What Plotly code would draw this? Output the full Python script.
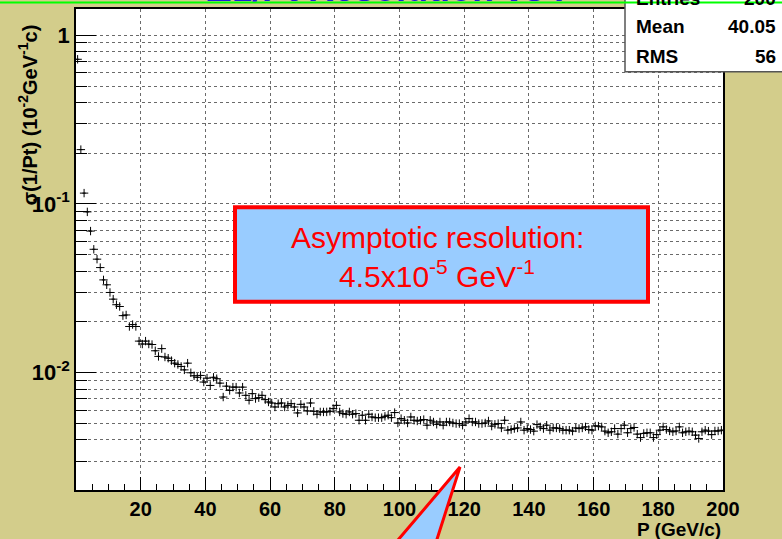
import math
import plotly.graph_objects as go

# ---------------- data ----------------
bin_low = list(range(200))                 # 200 bins of 1 GeV/c from 0 to 200
P_center = [b + 0.5 for b in bin_low]

sigma = [
    0.72, 0.21, 0.116, 0.0898, 0.0691, 0.0539, 0.0471, 0.042, 0.0355, 0.0332,
    0.0299, 0.0273, 0.0253, 0.0247, 0.0218, 0.0220, 0.0188, 0.0193, 0.0188, 0.0154,
    0.0148, 0.0154, 0.0148, 0.0147, 0.0135, 0.0125, 0.0139, 0.0124, 0.0122, 0.0118,
    0.0114, 0.0112, 0.0109, 0.0104, 0.0114, 0.0100, 0.0096, 0.0094,
    0.00964, 0.00881, 0.00929, 0.00841, 0.0094, 0.00922, 0.00868, 0.00718, 0.00833, 0.00786,
    0.00822, 0.00822, 0.00759, 0.00822, 0.00735, 0.00687, 0.00752, 0.00703, 0.00712, 0.00735,
    0.00693, 0.00671, 0.00662, 0.00627, 0.00656, 0.00662, 0.00627, 0.00641, 0.00656, 0.00627,
    0.00578, 0.0065, 0.00627, 0.00594, 0.00662, 0.00591, 0.00568, 0.00586, 0.00586, 0.00586,
    0.00591, 0.00613, 0.00641, 0.00586, 0.00573, 0.00568, 0.00586, 0.00568, 0.00573, 0.00523,
    0.0056, 0.00523, 0.00568, 0.00547, 0.00542, 0.00542, 0.00542,
    0.00552, 0.0056,
    0.00542, 0.00581, 0.00504, 0.00535, 0.00523, 0.00504, 0.00547, 0.00523, 0.00518,
    0.00523, 0.00528, 0.00489, 0.00523, 0.00511, 0.00495, 0.00511, 0.00489, 0.00511, 0.00511,
    0.00504, 0.005, 0.005, 0.00489, 0.00511, 0.00535, 0.00511, 0.00511, 0.005,
    0.005, 0.00504, 0.00518, 0.00483, 0.00495, 0.005, 0.00471, 0.00523, 0.00457, 0.00461,
    0.00467, 0.00471, 0.00511, 0.00457, 0.00467, 0.00461, 0.00451, 0.00493, 0.00478, 0.00467,
    0.00489, 0.00457, 0.00471, 0.00471, 0.00467, 0.00457, 0.00457, 0.00457, 0.00451, 0.00471,
    0.00467, 0.00471, 0.00478, 0.00461, 0.00457, 0.00484, 0.00483, 0.00478, 0.00451, 0.00441,
    0.00447, 0.00467, 0.00433, 0.00467, 0.00489, 0.00441, 0.00467, 0.00474, 0.00433, 0.00413,
    0.00437, 0.00441, 0.00441, 0.00413, 0.0043, 0.00457, 0.00478, 0.00461, 0.00452, 0.00447,
    0.00452, 0.00478, 0.00441, 0.00447, 0.00451, 0.00447, 0.00427, 0.00408, 0.00447, 0.00457,
    0.00451, 0.0043, 0.00452, 0.00452, 0.00457,
]

x_ticks = [20, 40, 60, 80, 100, 120, 140, 160, 180, 200]
x_minor = [5, 10, 15, 25, 30, 35, 45, 50, 55, 65, 70, 75, 85, 90, 95, 105, 110, 115,
           125, 130, 135, 145, 150, 155, 165, 170, 175, 185, 190, 195]
y_ticks = [0.01, 0.1, 1]
y_ticktext = ["10<sup>-2</sup>", "10<sup>-1</sup>", "1"]
y_minor = [0.003, 0.004, 0.005, 0.006, 0.007, 0.008, 0.009,
           0.02, 0.03, 0.04, 0.05, 0.06, 0.07, 0.08, 0.09,
           0.2, 0.3, 0.4, 0.5, 0.6, 0.7, 0.8, 0.9]

stats_labels = ["Entries", "Mean", "RMS"]
stats_values = ["200", "40.05", "56"]

title_text = "Δ1/Pt Resolution vs P"
box_line1 = "Asymptotic resolution:"
box_line2 = "4.5x10<sup>-5</sup> GeV<sup>-1</sup>"

# ---------------- layout helpers ----------------
W, H = 782, 539
L, R, T, B = 76, 723, 7, 490


def px(x):
    return (x - L) / (R - L)


def py(y):
    return (B - y) / (B - T)


FONT = "Liberation Sans"
KHAKI = "#d3cd8b"
GRID = "#6a6a6a"

fig = go.Figure()
fig.add_trace(go.Scatter(
    x=P_center, y=sigma, mode="markers",
    marker=dict(symbol="cross-thin", size=6, color="black",
                line=dict(width=1, color="black")),
    error_x=dict(type="constant", value=0.5, width=0, thickness=1, color="black"),
    showlegend=False, hoverinfo="skip",
))

fig.update_layout(
    width=W, height=H,
    margin=dict(l=L, r=W - R, t=T, b=H - B, pad=0),
    paper_bgcolor=KHAKI, plot_bgcolor="white",
    showlegend=False,
    xaxis=dict(
        range=[0, 200], tickvals=x_ticks, ticks="inside", ticklen=13, tickwidth=1,
        tickcolor="black", showline=True, linecolor="black", linewidth=1.5, mirror=True,
        showgrid=True, gridcolor=GRID, griddash="dot", gridwidth=1, zeroline=False,
        minor=dict(tickvals=x_minor, ticks="inside", ticklen=6, tickcolor="black",
                   showgrid=False),
        tickfont=dict(family=FONT, size=20, color="black", weight="bold"),
    ),
    yaxis=dict(
        type="log", range=[math.log10(0.00202), math.log10(1.43)],
        tickvals=y_ticks, ticktext=y_ticktext, ticks="inside", ticklen=20,
        tickwidth=1, tickcolor="black", showline=True, linecolor="black",
        linewidth=1.5, mirror=True, showgrid=True, gridcolor=GRID,
        griddash="dot", gridwidth=1, zeroline=False,
        minor=dict(tickvals=y_minor, ticks="inside", ticklen=11, tickcolor="black",
                   showgrid=True, gridcolor=GRID, griddash="dot", gridwidth=1),
        tickfont=dict(family=FONT, size=22, color="black", weight="bold"),
    ),
)

shapes = []
# stats box
shapes.append(dict(type="rect", xref="paper", yref="paper",
                   x0=px(625), x1=px(800), y0=py(70), y1=py(-10),
                   fillcolor="white", line=dict(color="#555555", width=1.5)))
# annotation box
shapes.append(dict(type="rect", xref="paper", yref="paper",
                   x0=px(235), x1=px(648), y0=py(301), y1=py(206),
                   fillcolor="#99ccff", line=dict(color="#ff0000", width=4)))
# callout pointer
tip = (460, 467)
left_b = (388, 552)
right_b = (433, 552)
path = "M {} {} L {} {} L {} {} Z".format(px(tip[0]), py(tip[1]), px(left_b[0]), py(left_b[1]),
                                         px(right_b[0]), py(right_b[1]))
shapes.append(dict(type="path", xref="paper", yref="paper", path=path,
                   fillcolor="#99ccff", line=dict(color="#ff0000", width=3)))
# green slide border line at top
shapes.append(dict(type="line", xref="paper", yref="paper",
                   x0=px(-10), x1=px(800), y0=py(0.5), y1=py(0.5),
                   line=dict(color="#00ff00", width=2)))
fig.update_layout(shapes=shapes)

ann = []
# title (mostly cut off at top)
ann.append(dict(text=title_text, xref="paper", yref="paper", x=px(392), y=py(-14),
                xanchor="center", yanchor="middle", showarrow=False,
                font=dict(family=FONT, size=36, color="#1a1adc", weight="bold")))
# y axis title
ann.append(dict(text="σ(1/Pt) (10<sup>-2</sup>GeV<sup>-1</sup>c)", xref="paper", yref="paper",
                x=px(28), y=py(114), xanchor="center", yanchor="middle", textangle=-90,
                showarrow=False, font=dict(family=FONT, size=20, color="black", weight="bold")))
# x axis title
ann.append(dict(text="P (GeV/c)", xref="paper", yref="paper", x=px(723), y=py(530),
                xanchor="right", yanchor="middle", showarrow=False,
                font=dict(family=FONT, size=19, color="black", weight="bold")))
# stats text
stat_rows_y = [-4, 25, 55]
for lab, val, yy in zip(stats_labels, stats_values, stat_rows_y):
    ann.append(dict(text=lab, xref="paper", yref="paper", x=px(634), y=py(yy),
                    xanchor="left", yanchor="middle", showarrow=False,
                    font=dict(family=FONT, size=19, color="black", weight="bold")))
    ann.append(dict(text=val, xref="paper", yref="paper", x=px(778), y=py(yy),
                    xanchor="right", yanchor="middle", showarrow=False,
                    font=dict(family=FONT, size=19, color="black", weight="bold")))
# box text
ann.append(dict(text=box_line1, xref="paper", yref="paper", x=px(437), y=py(236),
                xanchor="center", yanchor="middle", showarrow=False,
                font=dict(family=FONT, size=30, color="#ff0000")))
ann.append(dict(text=box_line2, xref="paper", yref="paper", x=px(437), y=py(273),
                xanchor="center", yanchor="middle", showarrow=False,
                font=dict(family=FONT, size=30, color="#ff0000")))
fig.update_layout(annotations=ann)

fig.write_html("out.html")
